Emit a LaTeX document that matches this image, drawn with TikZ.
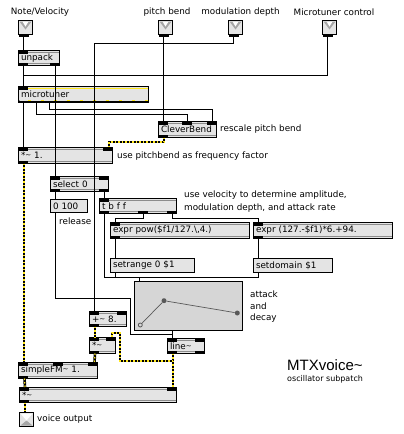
\documentclass[tikz,border=0pt]{standalone}
\usepackage{fontspec}
\setmainfont{DejaVu Sans}
\newfontfamily\titlefont{Liberation Sans}
\usetikzlibrary{calc}
\definecolor{boxfill}{HTML}{E4E4E4}
\definecolor{funcfill}{HTML}{D6D6D6}
\definecolor{stripe}{HTML}{8C8C8C}
\definecolor{sigyellow}{HTML}{FFE81A}
\newcommand{\tld}{\raisebox{1.2pt}{\fontsize{7}{8}\selectfont\textasciitilde}}

\begin{document}
\begin{tikzpicture}[
        x=1pt, y=-1pt,
        objbox/.style={draw, line width=1pt, fill=boxfill, anchor=north west, outer sep=0pt,
                     inner xsep=2.5pt, inner ysep=0pt, text width=#1-6pt, align=left,
                     font=\fontsize{8.8}{10}\selectfont,
                     path picture={
                       \draw[stripe, line width=1pt]
                         ([yshift=-2pt]path picture bounding box.north west) -- ([yshift=-2pt]path picture bounding box.north east)
                         ([yshift=2pt]path picture bounding box.south west) -- ([yshift=2pt]path picture bounding box.south east);}},
        msgbox/.style={draw, line width=1pt, fill=boxfill, anchor=north west, outer sep=0pt,
                     inner xsep=2.5pt, inner ysep=0pt, text width=#1-6pt, align=left,
                     font=\fontsize{8.8}{10}\selectfont},
        portbox/.style={draw, line width=1pt, fill=boxfill, anchor=north west, outer sep=0pt,
                     minimum size=14pt, inner sep=0pt},
        wire/.style={line width=1pt},
        sig/.style={line width=2.6pt, postaction={draw=sigyellow, line width=1.3pt, dash pattern=on 1.5pt off 2pt}},
        note/.style={font=\fontsize{8.8}{10}\selectfont, anchor=west, inner sep=0pt},
        portbar/.style={fill=black, draw=none},
        dot/.style={circle, fill=black!65, minimum size=5pt, inner sep=0pt}
      ]
      \useasboundingbox (0,0) rectangle (404,434);

      \begin{scope}[shift={(0.5,0.5)}]
      % ── Eingänge ──
      \node[portbox] (inNote) at (18,20)  {};
      \node[portbox] (inBend) at (158,20) {};
      \node[portbox] (inMod)  at (228,20) {};
      \node[portbox] (inTune) at (322,20) {};

      % ── Objekte ──
      \node[objbox=42, minimum height=15]  (unpack)  at (18,50)   {unpack};
      \node[objbox=131, minimum height=16] (tuner)   at (18,86)   {microtuner};
      \node[objbox=59, minimum height=16]  (clever)  at (158,121) {CleverBend};
      \node[objbox=95, minimum height=16]  (freq)    at (18,147)  {*\tld{} 1.};
      \node[objbox=59, minimum height=15]  (sel)     at (50,176)  {select 0};
      \node[msgbox=38, minimum height=13]  (msgRel)  at (50,199)  {0 100};
      \node[objbox=78, minimum height=15]  (trig)    at (99,198)  {t b f f};
      \node[objbox=140, minimum height=16] (exprA)   at (110,222) {expr pow(\$f1/127.\textbackslash,4.)};
      \node[objbox=140, minimum height=16] (exprB)   at (253,222) {expr (127.-\$f1)*6.+94.};
      \node[msgbox=85, minimum height=14]  (setR)    at (110,258) {setrange 0 \$1};
      \node[msgbox=80, minimum height=14]  (setD)    at (253,258) {setdomain \$1};
      \node[draw, line width=1pt, fill=funcfill, anchor=north west, outer sep=0pt,
            minimum width=108, minimum height=49, inner sep=0pt] (func) at (134,281) {};
      \node[objbox=38, minimum height=15]  (lineS)   at (167,338) {line\tld};
      \node[objbox=38, minimum height=15]  (plus)    at (89,311)  {+\tld{} 8.};
      \node[objbox=27, minimum height=16]  (mulA)    at (89,337)  {*\tld};
      \node[objbox=80, minimum height=16]  (fm)      at (18,362)  {simpleFM\tld{} 1.};
      \node[objbox=158, minimum height=15] (mulB)    at (19,387)  {*\tld};
      \node[portbox] (out) at (19,412) {};
      \end{scope}

      % ── Dreiecke ──
      \foreach \n in {inNote, inBend, inMod, inTune} {
        \fill[black!35] ([shift={(1,1)}]\n.north west) -- ([shift={(-1,1)}]\n.north east) -- ([yshift=-2]\n.center) -- cycle;
        \fill[white] ([shift={(4,1)}]\n.north west) -- ([shift={(-4,1)}]\n.north east) -- ([yshift=1]\n.center) -- cycle;
      }
      \fill[black!35] ([shift={(1,-1)}]out.south west) -- ([shift={(-1,-1)}]out.south east) -- ([yshift=-1]out.center) -- cycle;
      \fill[white] ([shift={(1,1)}]out.north west) -- ([shift={(-1,1)}]out.north east) -- ([yshift=-1]out.center) -- cycle;

      % ── microtuner: gelbe Streifen ──
      \draw[sigyellow, line width=1pt] ([shift={(1,2)}]tuner.north west) -- ([shift={(-1,2)}]tuner.north east);
      \draw[boxfill, line width=1pt] ([shift={(1,-2)}]tuner.south west) -- ([shift={(-1,-2)}]tuner.south east);
      \draw[sigyellow, line width=1pt, dash pattern=on 3pt off 10pt] ([shift={(9,-2)}]tuner.south west) -- ([shift={(-1,-2)}]tuner.south east);

      % ── Ein- und Ausgangsbalken ──
      \foreach \n/\x in {unpack/0, tuner/0, clever/0, clever/24, clever/49, freq/0, freq/85, sel/0, sel/49,
                         trig/0, exprA/0, exprB/0, lineS/0, lineS/28, plus/0, plus/28, mulA/0, mulA/17,
                         fm/0, fm/35, fm/70, mulB/0, mulB/148}
        \fill[portbar] ([shift={(\x-0.5,-0.5)}]\n.north west) rectangle ([shift={(\x+9.5,3)}]\n.north west);
      \foreach \n/\x in {unpack/0, unpack/32, clever/0, freq/0, sel/0, sel/49, trig/0, trig/39, trig/68,
                         exprA/0, exprB/0, lineS/0, lineS/28, plus/0, mulA/0, fm/0, mulB/0}
        \fill[portbar] ([shift={(\x-0.5,0.5)}]\n.south west) rectangle ([shift={(\x+9.5,-3)}]\n.south west);
      \fill[portbar] ([shift={(-0.5,-2)}]tuner.south west) rectangle ([shift={(0.5,0.5)}]tuner.south east);
      \foreach \n in {inNote, inBend, inMod, inTune}
        \fill[portbar] ([yshift=-2]\n.south west) rectangle ([shift={(10,0.5)}]\n.south west);

      % ── Funktion ──
      \node[circle, draw=black!65, line width=0.8pt, minimum size=4pt, inner sep=0pt] (fa) at (140.3,325) {};
      \node[dot] (fb) at (164,300.7) {};
      \node[dot] (fc) at (237.3,313) {};
      \draw[black!65, line width=0.7pt] (fa) -- (fb) -- (fc);

      % ── Verbindungen ──
      \draw[wire] ([xshift=5]inNote.south west) -- ([xshift=5]unpack.north west);
      \draw[wire] ([xshift=5]unpack.south west) -- ([xshift=5]tuner.north west);
      \draw[wire] ([xshift=37]unpack.south west) -- ([xshift=5]sel.north west);
      \draw[wire] ([xshift=5]sel.south west) -- ([xshift=5]msgRel.north west);
      \draw[wire] ([xshift=5]msgRel.south west) -- ++(0,86) -- ++(75,0) -- ++(0,36) -| ([xshift=5]lineS.north west);
      \draw[wire] ([xshift=5]inTune.south west) |- ([shift={(5,-11)}]tuner.north west) -- ([xshift=5]tuner.north west);
      \draw[wire] ([xshift=5]inMod.south west) -- ++(0,9) -| ([xshift=5]plus.north west);
      \draw[wire] ([xshift=5]inBend.south west) -- ([xshift=5]clever.north west);
      \draw[wire] ([xshift=5]tuner.south west) -- ([xshift=5]freq.north west);
      \draw[wire] ([xshift=18]tuner.south west) -- ++(0,12) -| ([xshift=29]clever.north west);
      \draw[wire] ([xshift=31]tuner.south west) -- ++(0,7) -| ([xshift=54]clever.north west);
      \draw[wire] ([xshift=54]sel.south west) -- ([xshift=5]trig.north west);
      \draw[wire] ([xshift=5]trig.south west) -- ++(0,64) -| ([xshift=5]func.north west);
      \draw[wire] ([xshift=44]trig.south west) -- ++(0,5) -| ([xshift=5]exprA.north west);
      \draw[wire] ([xshift=73]trig.south west) -- ++(0,5) -| ([xshift=5]exprB.north west);
      \draw[wire] ([xshift=5]exprA.south west) -- ([xshift=5]setR.north west);
      \draw[wire] ([xshift=5]exprB.south west) -- ([xshift=5]setD.north west);
      \draw[wire] ([xshift=5]setR.south west) -- ++(0,5);
      \draw[wire] ([xshift=5]setD.south west) -- ++(0,5) -| ([xshift=5]func.north west);
      \draw[wire] ([xshift=38]func.south west) -- ([xshift=5]lineS.north west);

      % ── Signalleitungen ──
      \draw[sig] ([xshift=5.5]clever.south west) -- ++(0,4.5) -| ([xshift=90.5]freq.north west);
      \draw[sig] ([xshift=5.5]freq.south west) -- ([xshift=5.5]fm.north west);
      \draw[sig] ([xshift=5.5]plus.south west) -- ([xshift=5.5]mulA.north west);
      \draw[sig] ([xshift=5.5]mulA.south west) -- ([xshift=76]fm.north west);
      \draw[sig] ([xshift=5.5]lineS.south west) -- ([xshift=153.5]mulB.north west);
      \draw[sig] ([shift={(5.5,7.5)}]lineS.south west) -- ++(-53,0) -- ++(0,-28) -| ([xshift=22.5]mulA.north west);
      \draw[sig] ([xshift=6]fm.south west) -- ([xshift=5.5]mulB.north west);
      \draw[sig] ([xshift=5.5]mulB.south west) -- ([xshift=5.5]out.north west);

      % ── Texte ──
      \node[note, anchor=center] at (40,12.5)  (lNote) {Note/Velocity};
      \node[note, anchor=center] at (167,12)   (lBend) {pitch bend};
      \node[note, anchor=center] at (240.5,12) (lMod)  {modulation depth};
      \node[note, anchor=center] at (334,12.5) (lTune) {Microtuner control};
      \node[note] (cBend) at (220,129.5) {rescale pitch bend};
      \node[note] (cFreq) at (117,156)   {use pitchbend as frequency factor};
      \node[note] (cVelA) at (184,195.5) {use velocity to determine amplitude,};
      \node[note] (cVelB) at (184,208)   {modulation depth, and attack rate};
      \node[note] (cRel)  at (59,221)    {release};
      \node[note] (cAtt)  at (250,294)   {attack};
      \node[note] (cAnd)  at (250,306)   {and};
      \node[note] (cDec)  at (250,318)   {decay};
      \node[note] (cOut)  at (37,419)    {voice output};
      \node[note, font=\titlefont\fontsize{15}{17}\selectfont] (title) at (287,365) {MTXvoice\textasciitilde};
      \node[note, font=\fontsize{8}{9}\selectfont] (sub) at (287,379.5) {oscillator subpatch};
    \end{tikzpicture}
\end{document}
